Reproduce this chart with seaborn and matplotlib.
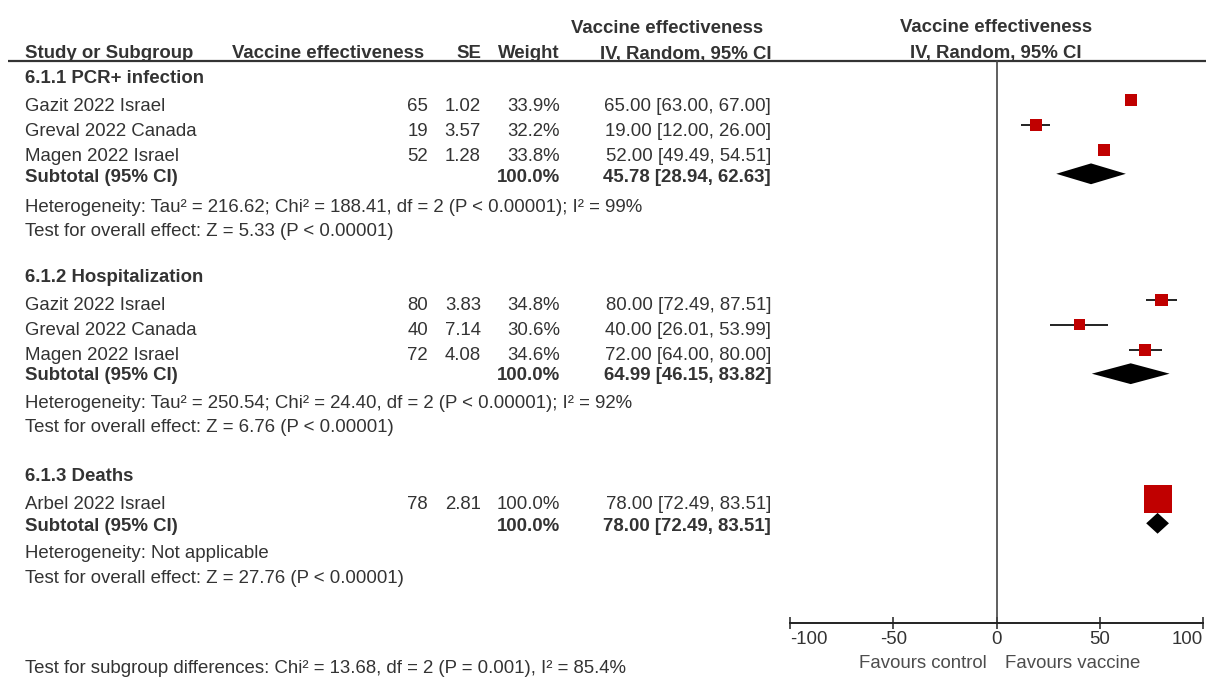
import numpy as np
import pandas as pd
import matplotlib
matplotlib.use("Agg")
import matplotlib.pyplot as plt
import seaborn as sns

# ---------------- data ----------------
group_titles = ["6.1.1 PCR+ infection", "6.1.2 Hospitalization", "6.1.3 Deaths"]
study_names = ["Gazit 2022 Israel", "Greval 2022 Canada", "Magen 2022 Israel",
               "Gazit 2022 Israel", "Greval 2022 Canada", "Magen 2022 Israel",
               "Arbel 2022 Israel"]
study_group = [0, 0, 0, 1, 1, 1, 2]
effect = [65, 19, 52, 80, 40, 72, 78]
se = [1.02, 3.57, 1.28, 3.83, 7.14, 4.08, 2.81]
weight = [33.9, 32.2, 33.8, 34.8, 30.6, 34.6, 100.0]
ci_low = [63.00, 12.00, 49.49, 72.49, 26.01, 64.00, 72.49]
ci_high = [67.00, 26.00, 54.51, 87.51, 53.99, 80.00, 83.51]
sub_est = [45.78, 64.99, 78.00]
sub_low = [28.94, 46.15, 72.49]
sub_high = [62.63, 83.82, 83.51]
sub_weight = [100.0, 100.0, 100.0]
heterogeneity = [
    "Heterogeneity: Tau² = 216.62; Chi² = 188.41, df = 2 (P < 0.00001); I² = 99%",
    "Heterogeneity: Tau² = 250.54; Chi² = 24.40, df = 2 (P < 0.00001); I² = 92%",
    "Heterogeneity: Not applicable",
]
overall = [
    "Test for overall effect: Z = 5.33 (P < 0.00001)",
    "Test for overall effect: Z = 6.76 (P < 0.00001)",
    "Test for overall effect: Z = 27.76 (P < 0.00001)",
]
subgroup_test = "Test for subgroup differences: Chi² = 13.68, df = 2 (P = 0.001), I² = 85.4%"
x_ticks = [-100, -50, 0, 50, 100]
favours_left = "Favours control"
favours_right = "Favours vaccine"

# ---------------- layout (pixel rows) ----------------
W, H = 1206, 684
title_base = [82.7, 281.7, 481.0]
study_base = [111, 136, 161, 310, 335, 360, 509.3]
study_mark = [100, 125, 150, 300, 324.5, 350, 499.2]
sub_base = [181.7, 380, 531]
sub_mark = [173.8, 373.7, 523.3]
het_base = [212, 408, 558.3]
test_base = [236.5, 432, 583.3]
axis_y = 623
line_y = 61

sns.set_theme(style="white")
plt.rcParams["font.family"] = ["Liberation Sans", "DejaVu Sans"]
FS = 13.4
TXT = "#333333"

fig = plt.figure(figsize=(W / 100, H / 100), dpi=100)
fig.patch.set_facecolor("white")

# text layer in pixel coordinates
ax_t = fig.add_axes([0, 0, 1, 1])
ax_t.set_xlim(0, W)
ax_t.set_ylim(H, 0)
ax_t.axis("off")

x_name, x_eff, x_se, x_w, x_ci = 25, 428, 481, 560, 771


def put(x, y, s, ha="left", bold=False, color=TXT):
    ax_t.text(x, y, s, ha=ha, va="baseline", fontsize=FS, color=color,
              fontweight="bold" if bold else "normal")


# headers
put(667, 32.7, "Vaccine effectiveness", ha="center", bold=True)
put(x_name, 58.5, "Study or Subgroup", bold=True)
put(232, 58.5, "Vaccine effectiveness", bold=True)
put(x_se, 58.5, "SE", ha="right", bold=True)
put(x_w, 58.5, "Weight", ha="right", bold=True)
put(x_ci, 58.5, "IV, Random, 95% CI", ha="right", bold=True)
put(996, 32.3, "Vaccine effectiveness", ha="center", bold=True)
put(996, 58.0, "IV, Random, 95% CI", ha="center", bold=True)
ax_t.plot([8, W], [line_y, line_y], color="#333333", lw=1.6, solid_capstyle="butt")

for g in range(3):
    put(x_name, title_base[g], group_titles[g], bold=True)
    put(x_name, sub_base[g], "Subtotal (95% CI)", bold=True)
    put(x_w, sub_base[g], f"{sub_weight[g]:.1f}%", ha="right", bold=True)
    put(x_ci, sub_base[g], f"{sub_est[g]:.2f} [{sub_low[g]:.2f}, {sub_high[g]:.2f}]",
        ha="right", bold=True)
    put(x_name, het_base[g], heterogeneity[g])
    put(x_name, test_base[g], overall[g])

for i in range(len(study_names)):
    put(x_name, study_base[i], study_names[i])
    put(x_eff, study_base[i], f"{effect[i]}", ha="right")
    put(x_se, study_base[i], f"{se[i]:.2f}", ha="right")
    put(x_w, study_base[i], f"{weight[i]:.1f}%", ha="right")
    put(x_ci, study_base[i], f"{effect[i]:.2f} [{ci_low[i]:.2f}, {ci_high[i]:.2f}]", ha="right")

put(x_name, 673.3, subgroup_test)
put(987, 667.7, favours_left, ha="right", color="#4d4d4d")
put(1005, 667.7, favours_right, ha="left", color="#4d4d4d")

# forest axes
ax_f = fig.add_axes([790 / W, 0, 413 / W, 1])
ax_f.set_facecolor("none")
ax_f.set_xlim(-100, 100)
ax_f.set_ylim(H, 0)

df = pd.DataFrame({"effect": effect, "y": study_mark, "weight": weight,
                   "lo": ci_low, "hi": ci_high})
ax_f.hlines(df["y"], df["lo"], df["hi"], color="#222222", lw=1.4, zorder=2)
sns.scatterplot(data=df, x="effect", y="y", size="weight", sizes=(62, 410),
                marker="s", color="#C00000", linewidth=0, legend=False,
                ax=ax_f, zorder=3)

for g in range(3):
    h = 10.4
    ax_f.fill([sub_low[g], sub_est[g], sub_high[g], sub_est[g]],
              [sub_mark[g], sub_mark[g] - h, sub_mark[g], sub_mark[g] + h],
              color="black", lw=0, zorder=3)

ax_f.plot([0, 0], [line_y, axis_y], color="#444444", lw=1.2, zorder=1)

for s in ["left", "right", "top"]:
    ax_f.spines[s].set_visible(False)
ax_f.spines["bottom"].set_position(("data", axis_y))
ax_f.spines["bottom"].set_color("#222222")
ax_f.spines["bottom"].set_linewidth(1.4)
ax_f.set_yticks([])
ax_f.set_xticks(x_ticks)
ax_f.set_xticklabels([str(t) for t in x_ticks])
ax_f.tick_params(axis="x", direction="inout", length=8, width=1.1, colors="#222222",
                 labelcolor=TXT, labelsize=FS, pad=1.5, bottom=True)
labs = ax_f.get_xticklabels()
labs[0].set_ha("left")
labs[-1].set_ha("right")
ax_f.set_xlabel("")
ax_f.set_ylabel("")

fig.savefig("out.png", dpi=100, facecolor="white")
